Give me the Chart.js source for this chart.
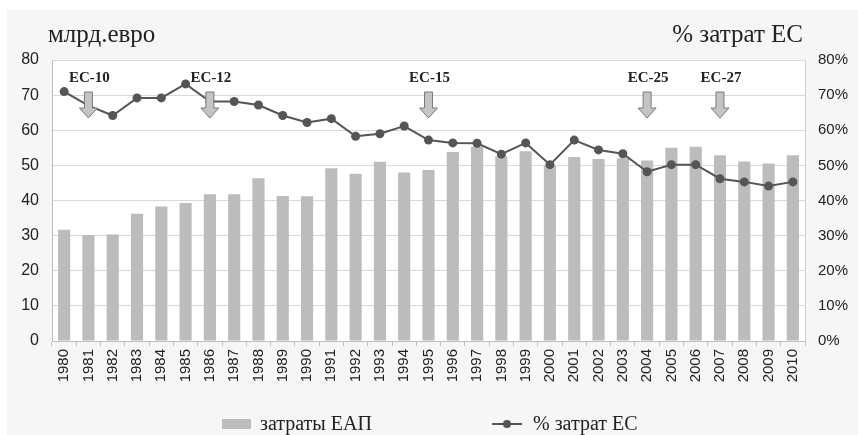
<!DOCTYPE html>
<html>
<head>
<meta charset="utf-8">
<script src="https://cdn.jsdelivr.net/npm/chart.js@4"></script>
<style>
  html, body { margin: 0; padding: 0; background: #fff; }
  canvas { display: block; }
</style>
</head>
<body>
<canvas id="chart" width="858" height="435"></canvas>
<script>
// years on the x axis
const years = ['1980', '1981', '1982', '1983', '1984', '1985', '1986', '1987', '1988', '1989',
    '1990', '1991', '1992', '1993', '1994', '1995', '1996', '1997', '1998', '1999',
    '2000', '2001', '2002', '2003', '2004', '2005', '2006', '2007', '2008', '2009', '2010'];

// CAP spending, bn euro (left axis)
const capSpending = [31.7, 30.2, 30.3, 36.2, 38.3, 39.3, 41.8, 41.8, 46.3, 41.3,
    41.2, 49.2, 47.6, 51.0, 48.0, 48.7, 53.8, 55.3, 52.6, 54.0,
    50.0, 52.4, 51.8, 52.0, 51.4, 55.0, 55.3, 52.9, 51.1, 50.5, 52.9];

// share of EU budget, % (right axis)
const euShare = [71.0, 67.0, 64.2, 69.2, 69.2, 73.2, 68.2, 68.2, 67.2, 64.2,
    62.2, 63.3, 58.3, 59.0, 61.2, 57.2, 56.4, 56.3, 53.2, 56.4,
    50.2, 57.2, 54.4, 53.3, 48.2, 50.2, 50.2, 46.2, 45.3, 44.1, 45.3];

// EU enlargement markers
const enlargeYears = ['1981', '1986', '1995', '2004', '2007'];
const enlargeLabels = ['EC-10', 'EC-12', 'EC-15', 'EC-25', 'EC-27'];

const leftTicks = [0, 10, 20, 30, 40, 50, 60, 70, 80];

const leftTitle = 'млрд.евро';
const rightTitle = '% затрат ЕС';
const barLabel = 'затраты ЕАП';
const lineLabel = '% затрат ЕС';

const serif = "'Liberation Serif', 'Times New Roman', serif";
const sans = "'Liberation Sans', Arial, sans-serif";
const barColor = '#bcbcbc';
const lineColor = '#555555';

// grey panel + white plot area
const backdrop = {
    id: 'backdrop',
    beforeDraw(chart) {
        const ctx = chart.ctx, a = chart.chartArea;
        ctx.save();
        ctx.fillStyle = '#ffffff';
        ctx.fillRect(0, 0, chart.width, chart.height);
        ctx.fillStyle = '#f6f6f6';
        ctx.fillRect(7, 10, chart.width - 7, chart.height - 10);
        ctx.fillStyle = '#ffffff';
        ctx.fillRect(a.left, a.top, a.right - a.left, a.bottom - a.top);
        ctx.restore();
    }
};

// enlargement arrows with labels
const arrows = {
    id: 'arrows',
    afterDatasetsDraw(chart) {
        const ctx = chart.ctx, a = chart.chartArea, x = chart.scales.x;
        ctx.save();
        enlargeYears.forEach((yr, i) => {
            const cx = x.getPixelForValue(years.indexOf(yr));
            const top = a.top + 32, neck = a.top + 48, tip = a.top + 58;
            ctx.beginPath();
            ctx.moveTo(cx - 4, top);
            ctx.lineTo(cx + 4, top);
            ctx.lineTo(cx + 4, neck);
            ctx.lineTo(cx + 9, neck);
            ctx.lineTo(cx, tip);
            ctx.lineTo(cx - 9, neck);
            ctx.lineTo(cx - 4, neck);
            ctx.closePath();
            ctx.fillStyle = '#c4c4c4';
            ctx.fill();
            ctx.strokeStyle = '#7a7a7a';
            ctx.lineWidth = 1;
            ctx.stroke();

            ctx.fillStyle = '#222';
            ctx.font = 'bold 15px ' + serif;
            ctx.textAlign = 'center';
            ctx.textBaseline = 'alphabetic';
            ctx.fillText(enlargeLabels[i], cx + 1, a.top + 22);
        });
        ctx.restore();
    }
};

// axis titles and legend
const extras = {
    id: 'extras',
    afterDraw(chart) {
        const ctx = chart.ctx;
        ctx.save();
        ctx.fillStyle = '#222';
        ctx.font = '25px ' + serif;
        ctx.textBaseline = 'alphabetic';
        ctx.textAlign = 'left';
        ctx.fillText(leftTitle, 48, 42);
        ctx.textAlign = 'right';
        ctx.fillText(rightTitle, 803, 42);

        // legend
        const ly = 424;
        ctx.fillStyle = barColor;
        ctx.fillRect(222, ly - 5, 29, 10);
        ctx.fillStyle = '#222';
        ctx.font = '20px ' + serif;
        ctx.textAlign = 'left';
        ctx.fillText(barLabel, 260, 430);

        ctx.strokeStyle = lineColor;
        ctx.lineWidth = 2;
        ctx.beginPath();
        ctx.moveTo(492, ly);
        ctx.lineTo(522, ly);
        ctx.stroke();
        ctx.fillStyle = lineColor;
        ctx.beginPath();
        ctx.arc(507, ly, 4, 0, Math.PI * 2);
        ctx.fill();
        ctx.fillStyle = '#222';
        ctx.fillText(lineLabel, 533, 430);
        ctx.restore();
    }
};

new Chart(document.getElementById('chart').getContext('2d'), {
    type: 'bar',
    data: {
        labels: years,
        datasets: [{
            type: 'bar',
            label: barLabel,
            data: capSpending,
            backgroundColor: barColor,
            categoryPercentage: 1,
            barPercentage: 0.5,
            yAxisID: 'y',
            order: 2
        }, {
            type: 'line',
            label: lineLabel,
            data: euShare,
            borderColor: lineColor,
            backgroundColor: lineColor,
            borderWidth: 2,
            pointRadius: 4.5,
            pointBackgroundColor: lineColor,
            pointBorderWidth: 0,
            tension: 0,
            yAxisID: 'y1',
            order: 1
        }]
    },
    options: {
        responsive: false,
        animation: false,
        devicePixelRatio: 1,
        layout: { padding: { top: 60, left: 0, right: 0, bottom: 0 } },
        plugins: {
            legend: { display: false },
            tooltip: { enabled: false }
        },
        scales: {
            x: {
                afterFit(s) { s.height = 94; },
                grid: {
                    display: true,
                    drawOnChartArea: false,
                    drawTicks: true,
                    tickLength: 5,
                    color: '#bfbfbf',
                    offset: true
                },
                border: { color: '#bfbfbf' },
                ticks: {
                    autoSkip: false,
                    minRotation: 90,
                    maxRotation: 90,
                    padding: 3,
                    color: '#222',
                    font: { family: sans, size: 15 }
                }
            },
            y: {
                position: 'left',
                min: leftTicks[0],
                max: leftTicks[leftTicks.length - 1],
                afterFit(s) { s.width = 52; },
                afterBuildTicks(s) { s.ticks = leftTicks.map(v => ({ value: v })); },
                grid: { color: '#d9d9d9', drawTicks: false },
                border: { color: '#bfbfbf' },
                ticks: {
                    padding: 13,
                    color: '#222',
                    font: { family: sans, size: 16 }
                }
            },
            y1: {
                position: 'right',
                min: leftTicks[0],
                max: leftTicks[leftTicks.length - 1],
                afterFit(s) { s.width = 53; },
                afterBuildTicks(s) { s.ticks = leftTicks.map(v => ({ value: v })); },
                grid: { drawOnChartArea: false, drawTicks: false },
                border: { color: '#d0d0d0' },
                ticks: {
                    padding: 13,
                    color: '#222',
                    font: { family: sans, size: 15 },
                    callback: v => v + '%'
                }
            }
        }
    },
    plugins: [backdrop, arrows, extras]
});
</script>
</body>
</html>
